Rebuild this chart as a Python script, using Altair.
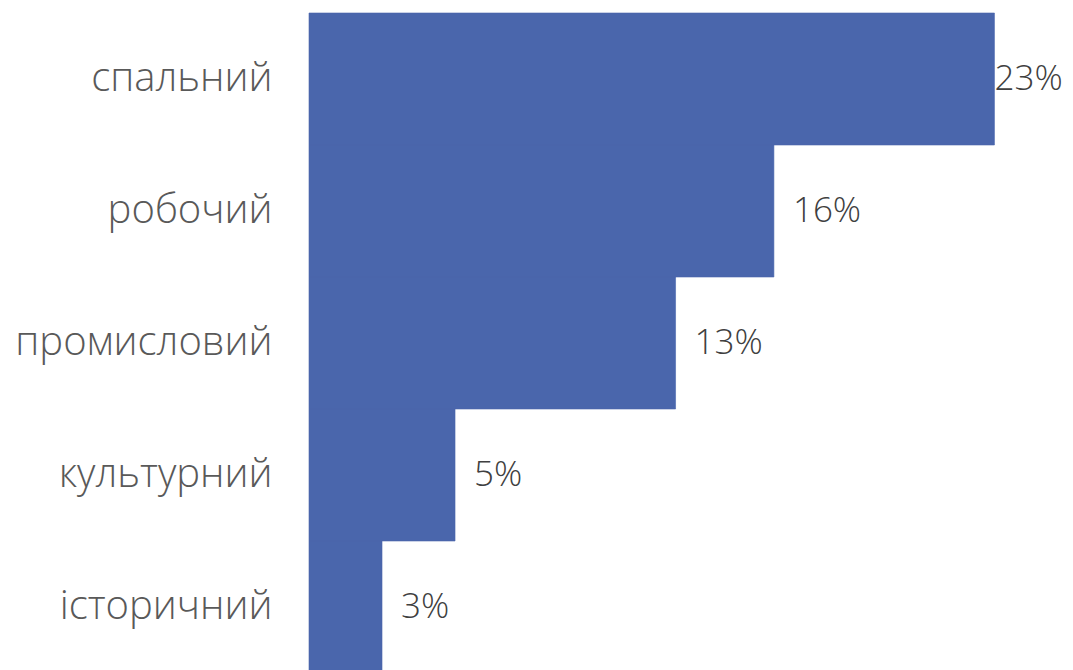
import altair as alt
import pandas as pd

categories = ["спальний", "робочий", "промисловий", "культурний", "історичний"]
values = [23.0, 15.6, 12.3, 4.9, 2.45]
labels = ["23%", "16%", "13%", "5%", "3%"]

df = pd.DataFrame({"category": categories, "value": values, "label": labels})

FONT = "Open Sans"

y = alt.Y(
    "category:N",
    sort=categories,
    title=None,
    scale=alt.Scale(paddingInner=0, paddingOuter=0),
    axis=alt.Axis(
        domain=True,
        domainColor="#BFBFBF",
        domainWidth=1,
        ticks=False,
        grid=False,
        labelPadding=37,
        labelFontSize=40,
        labelFont=FONT,
        labelFontWeight=300,
        labelColor="#595959",
        labelLimit=0,
    ),
)
x = alt.X("value:Q", scale=alt.Scale(domain=[0, 24.16]), axis=None)

base = alt.Chart(df)

bars = base.mark_bar(color="#4A66AC", stroke="#4A66AC", strokeWidth=0.6).encode(x=x, y=y)

text_small = (
    base.transform_filter("datum.value < 20")
    .mark_text(align="left", baseline="middle", dx=19, fontSize=35, font=FONT,
               fontWeight=300, color="#404040")
    .encode(x=x, y=y, text="label:N")
)
text_big = (
    base.transform_filter("datum.value >= 20")
    .mark_text(align="left", baseline="middle", dx=0, fontSize=35, font=FONT,
               fontWeight=300, color="#404040")
    .encode(x=x, y=y, text="label:N")
)

chart = (
    alt.layer(bars, text_small, text_big)
    .properties(
        width=720,
        height=660,
        autosize=alt.AutoSizeParams(type="none"),
        padding={"left": 301, "top": 5, "right": 36, "bottom": 0},
    )
    .configure_view(stroke=None)
)

chart.save("out.html", embed_options={"renderer": "svg", "actions": False})
